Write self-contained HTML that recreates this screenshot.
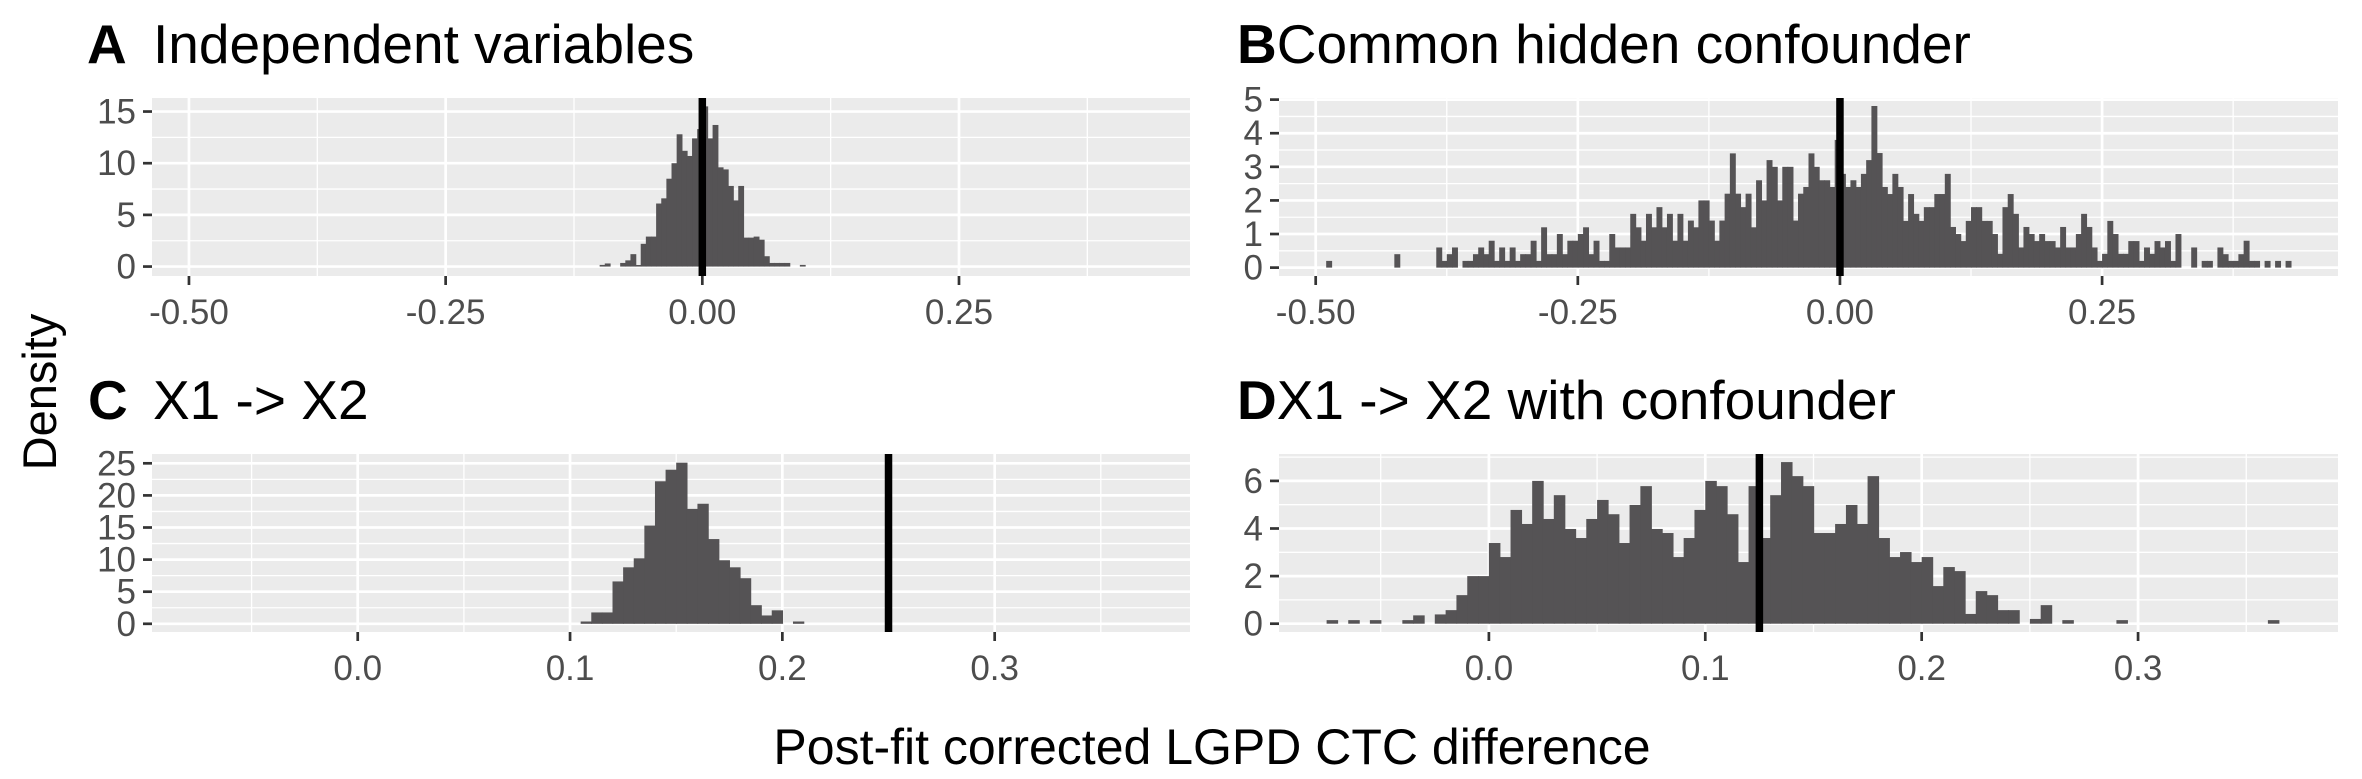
<!DOCTYPE html>
<html><head><meta charset="utf-8"><style>
html,body{margin:0;padding:0;background:#fff;}
svg{display:block;font-family:"Liberation Sans",Arial,sans-serif;}
</style></head><body>
<svg id="chart" width="2362" height="779" viewBox="0 0 2362 779" xmlns="http://www.w3.org/2000/svg">
<text x="87" y="63" font-size="55" font-weight="bold">A</text>
<text x="153" y="63" font-size="55">Independent variables</text>
<text x="1237" y="63" font-size="55"><tspan font-weight="bold">B</tspan>Common hidden confounder</text>
<text x="88" y="419" font-size="55" font-weight="bold">C</text>
<text x="153" y="419" font-size="55">X1 -&gt; X2</text>
<text x="1237" y="419" font-size="55"><tspan font-weight="bold">D</tspan>X1 -&gt; X2 with confounder</text>
<text x="0" y="0" font-size="47" text-anchor="middle" transform="translate(56,392) rotate(-90)">Density</text>
<text x="1212" y="764" font-size="50" text-anchor="middle">Post-fit corrected LGPD CTC difference</text>
</svg>
<script>
// Panel A data
const aStart = -0.1;
const aWidth = 0.005;
const aDensity = [0.16,0.3,0,0,0.35,0.6,1.2,0.15,2.2,2.9,2.9,6.1,6.6,8.5,10,12.8,11.2,10.7,12.4,13.3,15.5,12.4,13.7,9.6,9.4,7.8,6.4,7.8,2.8,2.8,2.9,2.6,1.0,0.35,0.35,0.35,0.35,0,0,0.16];
const aXTicks = [-0.5,-0.25,0,0.25];
const aXLabels = ["-0.50","-0.25","0.00","0.25"];
const aYTicks = [0,5,10,15];
const aVline = [0];
// Panel B data
const bStart = -0.49;
const bWidth = 0.005;
const bDensity = [0.2,0,0,0,0,0,0,0,0,0,0,0,0,0.4,0,0,0,0,0,0,0,0.6,0.2,0.4,0.6,0,0.2,0.2,0.4,0.6,
0.4,0.8,0.2,0.6,0.2,0.6,0.2,0.4,0.4,0.8,0.2,1.2,0.4,0.4,1.0,0.4,0.8,0.8,1.0,1.2,0.4,0.8,0.2,0.2,1.0,0.6,0.6,0.6,1.6,1.2,0.8,1.6,1.2,1.8,1.2,1.6,0.8,1.6,0.8,1.4,1.2,2.0,2.0,1.4,0.8,1.4,2.2,3.4,2.2,1.8,2.2,1.2,2.6,2.0,3.2,3.0,2.0,3.0,3.0,1.4,2.2,2.4,3.4,3.0,2.6,2.6,2.4,3.8,
2.79,2.4,2.6,2.4,2.79,3.2,4.81,3.41,2.4,2.19,2.79,2.4,1.39,2.19,1.6,1.39,1.8,1.8,2.19,2.19,2.79,1.21,1.0,0.79,1.39,1.8,1.8,1.39,1.39,1.0,0.41,1.8,2.19,1.6,0.6,1.21,1.0,0.79,1.0,0.79,0.79,0.6,1.21,0.6,0.6,1.0,1.6,1.21,0.6,0.2,0.41,1.39,1.0,0.41,0.41,0.79,0.79,0.2,0.6,0.41,0.79,0.6,0.79,0.2,1.0,0,0,0.6,
0,0.2,0.2,0,0.6,0.4,0.2,0.2,0.4,0.8,0.2,0.2,0,0.2,0,0.2,0,0.2];
const bXTicks = [-0.5,-0.25,0,0.25];
const bXLabels = ["-0.50","-0.25","0.00","0.25"];
const bYTicks = [0,1,2,3,4,5];
const bVline = [0];
// Panel C data
const cStart = 0.105;
const cWidth = 0.005;
const cDensity = [0.36,1.77,1.77,6.6,8.8,10.2,15.3,22.2,24,25.1,17.9,18.7,13.2,9.9,8.8,7.1,2.9,1.3,2.1,0,0.36];
const cXTicks = [0,0.1,0.2,0.3];
const cXLabels = ["0.0","0.1","0.2","0.3"];
const cYTicks = [0,5,10,15,20,25];
const cVline = [0.25];
// Panel D data
const dStart = -0.08;
const dWidth = 0.005;
const dDensity = [0,0.15,0,0.15,0,0.15,0,0,0.15,0.35,0,0.39,0.57,1.2,2.0,2.0,3.39,2.8,4.78,4.19,6.0,4.4,5.4,3.98,3.6,4.4,5.2,4.6,3.39,4.99,5.78,3.98,3.81,2.8,3.6,4.78,6.0,5.78,4.6,2.59,5.78,
3.6,5.4,6.79,6.2,5.78,3.81,3.81,4.19,4.99,4.19,6.2,3.6,2.8,3.01,2.59,2.8,1.58,2.38,2.21,0.41,1.37,1.2,0.57,0.57,0,0.2,0.78,
0,0.15,0,0,0,0,0.15,0,0,0,0,0,0,0,0,0,0,0,0,0,0.15];
const dXTicks = [0,0.1,0.2,0.3];
const dXLabels = ["0.0","0.1","0.2","0.3"];
const dYTicks = [0,2,4,6];
const dVline = [0.125];

const NS = "http://www.w3.org/2000/svg";
const svg = document.getElementById('chart');
function mk(tag, attrs){ const e=document.createElementNS(NS,tag); for(const k in attrs) e.setAttribute(k,attrs[k]); svg.appendChild(e); return e; }

function drawPanel(key, box, xdom, ydom, start, width, dens, xt, xl, yt, yMinorStep, vl){
  const sx = v => box.x + (v - xdom[0]) / (xdom[1]-xdom[0]) * box.w;
  const sy = v => box.y + box.h - (v - ydom[0]) / (ydom[1]-ydom[0]) * box.h;
  const bg = mk('rect',{x:box.x,y:box.y,width:box.w,height:box.h,fill:'#EBEBEB'});
  
  
  const xs = xt[1]-xt[0];
  for(let v = xt[0]-xs*4 + xs/2; v < xdom[1]; v += xs){
    if(v <= xdom[0]) continue;
    const l = mk('line',{x1:sx(v),x2:sx(v),y1:box.y,y2:box.y+box.h,stroke:'#fff','stroke-width':1.3});
    
    
  }
  for(let v = yt[0]+yMinorStep; v < ydom[1]; v += yMinorStep*2){
    const l = mk('line',{x1:box.x,x2:box.x+box.w,y1:sy(v),y2:sy(v),stroke:'#fff','stroke-width':1.3});
    
    
  }
  xt.forEach((v,i)=>{
    const l = mk('line',{x1:sx(v),x2:sx(v),y1:box.y,y2:box.y+box.h,stroke:'#fff','stroke-width':2.7});
    
    
    const t = mk('line',{x1:sx(v),x2:sx(v),y1:box.y+box.h,y2:box.y+box.h+9,stroke:'#333','stroke-width':2.7});
    
    
    const tx = mk('text',{x:sx(v),y:box.y+box.h+48,'font-size':35,fill:'#4D4D4D','text-anchor':'middle'});
    
    
    tx.textContent = xl[i];
  });
  yt.forEach(v=>{
    const l = mk('line',{x1:box.x,x2:box.x+box.w,y1:sy(v),y2:sy(v),stroke:'#fff','stroke-width':2.7});
    
    
    const t = mk('line',{x1:box.x-9,x2:box.x,y1:sy(v),y2:sy(v),stroke:'#333','stroke-width':2.7});
    
    
    const tx = mk('text',{x:box.x-16,y:sy(v)+12,'font-size':35,fill:'#4D4D4D','text-anchor':'end'});
    
    
    tx.textContent = String(v);
  });
  dens.forEach((d,i)=>{
    if(d<=0) return;
    const x0 = sx(start + i*width), x1 = sx(start + (i+1)*width);
    const r = mk('rect',{x:x0,y:sy(d),width:Math.max(0.5,x1-x0+0.7),height:sy(0)-sy(d),fill:'#555355'});
    
    
  });
  vl.forEach(v=>{
    const l = mk('line',{x1:sx(v),x2:sx(v),y1:box.y,y2:box.y+box.h,stroke:'#000','stroke-width':7.5});
    
    
  });
}

drawPanel('panel-a',{x:152,y:98,w:1038,h:178},[-0.536,0.475],[-0.9135,16.31],aStart,aWidth,aDensity,aXTicks,aXLabels,aYTicks,2.5,aVline);
drawPanel('panel-b',{x:1279,y:98,w:1059,h:178},[-0.535,0.475],[-0.2494,5.048],bStart,bWidth,bDensity,bXTicks,bXLabels,bYTicks,0.5,bVline);
drawPanel('panel-c',{x:152,y:454,w:1038,h:178},[-0.0969,0.3920],[-1.277,26.45],cStart,cWidth,cDensity,cXTicks,cXLabels,cYTicks,2.5,cVline);
drawPanel('panel-d',{x:1279,y:454,w:1059,h:178},[-0.0970,0.3924],[-0.3487,7.13],dStart,dWidth,dDensity,dXTicks,dXLabels,dYTicks,1,dVline);
</script>
</body></html>
